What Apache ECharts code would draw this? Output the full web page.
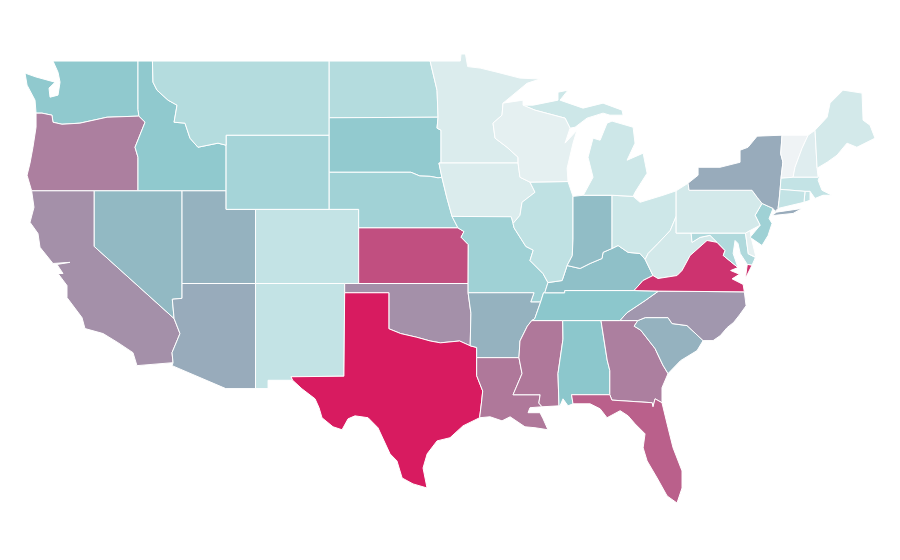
<!DOCTYPE html>
<html><head><meta charset="utf-8">
<style>html,body{margin:0;padding:0;background:#fff}#c{width:900px;height:560px}</style>
<script src="https://cdn.jsdelivr.net/npm/echarts@6/dist/echarts.min.js"></script>
</head><body><div id="c"></div>
<script>
// Values read from the shading of each state
const stateNames = ["Vermont","Delaware","Wisconsin","New Hampshire","Minnesota","Iowa","Pennsylvania","West Virginia","Maine","Ohio","Michigan","New Mexico","Connecticut","Rhode Island","Massachusetts","Colorado","Illinois","Montana","North Dakota","Maryland","Wyoming","Nebraska","Missouri","New Jersey","South Dakota","Washington","Idaho","Alabama","Tennessee","Kentucky","Indiana","Nevada","South Carolina","Utah","Arkansas","New York","Arizona","North Carolina","California","Oklahoma","Oregon","Georgia","Mississippi","Louisiana","Florida","Kansas","Virginia","Texas"];
const stateValues = [2,7,7,10,12,12,16,16,16,19,19,24,24,24,24,24,26,31,31,33,38,40,41,41,47,48,48,50,50,52,53,54,56,56,56,58,58,64,66,66,71,71,73,73,80,85,93,100];
const colorStops = ["#f3f5f6","#c1e2e4","#8cc7cc","#b27196","#d81b60"];

// State outlines as lon,lat rings (a base map, not data)
const WA=[[-122.8,49,-117.03,49,-117.03,46.4,-116.97,46.03,-119.13,45.97,-120.97,45.65,-122.19,45.59,-122.8,45.7,-122.87,46.08,-123.55,46.19,-123.95,46.19,-124.02,46.89,-124.56,47.7,-124.7,48.35,-123.95,48.14,-122.66,47.86,-123.07,47.54,-123,47.05,-122.46,47.16,-122.32,47.86,-122.46,48.4]];
const OR=[[-123.95,46.19,-123.55,46.19,-122.87,46.08,-122.8,45.7,-122.19,45.59,-120.97,45.65,-119.13,45.97,-116.97,46.03,-116.55,45.7,-117.23,44.35,-117.03,43.81,-117.03,42,-124.25,42,-124.56,42.84,-124.36,43.49,-124.16,44.35,-123.95,45.43]];
const ID=[[-117.03,49,-116.05,49,-116.01,47.86,-115.74,47.43,-114.99,46.89,-114.38,46.62,-114.58,45.7,-113.84,45.65,-113.5,44.84,-112.96,44.35,-111.6,44.57,-111.05,44.46,-111.05,42,-117.03,42,-117.03,43.81,-117.23,44.35,-116.55,45.7,-116.97,46.03,-117.03,46.4]];
const CA=[[-124.25,42,-120,42,-120,39,-114.58,35.11,-114.18,34.3,-114.72,33.27,-114.65,32.73,-117.1,32.57,-117.37,33.27,-118.39,33.81,-119.4,34.3,-120.63,34.57,-120.83,35.16,-121.85,36.24,-121.85,36.89,-122.46,37.54,-122.12,37.54,-122.53,38.03,-121.65,38.14,-122.8,38.08,-123.68,38.95,-123.82,39.7,-124.36,40.3,-124.09,41.11]];
const NV=[[-120,42,-114.04,42,-114.04,36.2,-114.7,36.15,-114.58,35.11,-120,39]];
const AZ=[[-114.04,37,-109.05,37,-109.05,31.33,-111.07,31.33,-114.72,32.57,-114.65,32.73,-114.72,33.27,-114.18,34.3,-114.58,35.11,-114.7,36.15,-114.04,36.2]];
const NM=[[-109.05,37,-103,37,-103,36.5,-103.05,32,-106.64,31.97,-106.53,31.78,-108.2,31.78,-108.2,31.33,-109.05,31.33]];
const UT=[[-114.04,42,-111.05,42,-111.05,41,-109.05,41,-109.05,37,-114.04,37]];
const CO=[[-109.05,41,-102.05,41,-102.05,37,-109.05,37]];
const WY=[[-111.05,45,-104.05,45,-104.05,41,-111.05,41]];
const MT=[[-116.05,49,-104.05,49,-104.05,45,-111.05,45,-111.05,44.46,-111.6,44.57,-112.96,44.35,-113.5,44.84,-113.84,45.65,-114.58,45.7,-114.38,46.62,-114.99,46.89,-115.74,47.43,-116.01,47.86]];
const ND=[[-104.05,49,-97.2,49,-96.73,47.43,-96.66,45.97,-104.05,45.94]];
const SD=[[-104.05,45.94,-96.66,45.97,-96.73,45.38,-96.46,45.27,-96.46,43.5,-96.6,43.5,-96.4,42.73,-96.66,42.7,-97.2,42.78,-97.9,42.8,-98.5,43,-104.05,43]];
const NE=[[-104.05,43,-98.5,43,-97.9,42.8,-97.2,42.78,-96.66,42.7,-96.4,42.73,-96.07,41.65,-95.71,40.62,-95.31,40,-102.05,40,-102.05,41,-104.05,41]];
const KS=[[-102.05,40,-95.31,40,-94.9,39.8,-95.1,39.5,-94.61,39.1,-94.62,37,-102.05,37]];
const OK=[[-103,37,-94.62,37,-94.62,36.5,-94.43,35.4,-94.48,33.64,-95.2,33.9,-96.5,33.8,-97.2,33.9,-98.1,34.1,-99.2,34.3,-100,34.56,-100,36.5,-103,36.5]];
const TX=[[-103,36.5,-100,36.5,-100,34.56,-99.2,34.3,-98.1,34.1,-97.2,33.9,-96.5,33.8,-95.2,33.9,-94.48,33.64,-94.04,33.55,-94.04,33,-94.04,32.03,-93.63,31.2,-93.7,30.66,-93.84,29.76,-94.97,29.32,-95.85,28.68,-96.73,28.51,-97.4,27.81,-97.68,27.05,-97.41,25.97,-98.36,26.19,-99.1,26.51,-99.45,27.43,-99.92,27.81,-100.74,29.22,-101.41,29.76,-102.3,29.86,-102.77,29.7,-103.18,29.11,-103.79,29.27,-104.54,29.76,-104.74,30.3,-105.01,30.78,-105.9,31.32,-106.53,31.78,-106.64,31.97,-103.05,32]];
const MN=[[-97.2,49,-95.15,49,-95.1,49.38,-94.8,49.38,-94.65,48.7,-93.8,48.62,-92.66,48.4,-91.1,48.08,-89.74,48.03,-90.62,47.8,-92.25,46.73,-92.32,46.08,-92.93,45.65,-92.79,44.84,-91.98,44.35,-91.23,43.81,-91.23,43.5,-96.46,43.5,-96.46,45.27,-96.73,45.38,-96.66,45.97,-96.73,47.43]];
const IA=[[-96.46,43.5,-91.23,43.5,-91.1,42.73,-90.42,42.47,-90.08,41.92,-90.96,41.38,-91.1,40.68,-91.57,40.24,-91.7,40.6,-95.71,40.62,-96.07,41.65,-96.4,42.73,-96.6,43.5]];
const MO=[[-95.71,40.62,-91.7,40.6,-91.57,40.24,-91.5,40,-90.7,39,-90.2,38.8,-90.42,38.24,-89.54,37.54,-89.2,37.05,-89.42,36.5,-89.5,36.5,-89.7,36,-90.37,36,-90.15,36.5,-94.62,36.5,-94.62,37,-94.61,39.1,-95.1,39.5,-94.9,39.8,-95.31,40]];
const AR=[[-94.62,36.5,-90.15,36.5,-90.37,36,-89.7,36,-90.1,35.1,-90.3,35,-90.6,34.7,-91.1,33.9,-91.17,33,-94.04,33,-94.04,33.55,-94.48,33.64,-94.43,35.4]];
const LA=[[-94.04,33,-91.17,33,-90.96,32.14,-91.57,31,-89.73,31,-89.82,30.55,-89.6,30.35,-90.42,30.3,-90.55,30.03,-89.74,30.03,-89.53,29.7,-89.2,29.11,-90.08,29.22,-90.76,29.27,-91.77,29.81,-92.32,29.59,-93.13,29.81,-93.84,29.76,-93.7,30.66,-93.63,31.2,-94.04,32.03]];
const MS=[[-90.3,35,-88.2,35,-88.18,34,-88.52,32.14,-88.45,30.4,-89.6,30.35,-89.82,30.55,-89.73,31,-91.57,31,-90.96,32.14,-91.17,33,-91.1,33.9,-90.6,34.7]];
const AL=[[-88.2,35,-85.6,35,-85.18,32.87,-85,32.3,-85,31,-87.6,31,-87.5,30.51,-87.84,30.4,-88.18,30.78,-88.38,30.4,-88.45,30.4,-88.52,32.14,-88.18,34]];
const GA=[[-85.6,35,-83.1,35,-83.35,34.7,-82.9,34.48,-81.93,33.49,-81.4,32.6,-81.05,32.14,-81.46,31.38,-81.46,30.57,-81.93,30.78,-82.07,30.35,-82.13,30.57,-84.86,30.71,-85,31,-85,32.3,-85.18,32.87]];
const FL=[[-87.6,31,-85,31,-84.86,30.71,-82.13,30.57,-82.07,30.35,-81.93,30.78,-81.46,30.57,-81.05,29.22,-80.71,28.14,-80.1,26.89,-80.1,25.97,-80.44,25.16,-81.11,25.54,-81.79,26.51,-82.47,27.43,-82.74,28.14,-82.61,28.89,-83.29,29.43,-83.76,29.86,-84.3,30.14,-85.19,29.76,-85.66,30.24,-86.34,30.51,-87.5,30.51]];
const SC=[[-83.1,35,-82.6,35.16,-81.05,35.16,-80.78,34.84,-79.76,34.73,-78.67,33.92,-79.08,33.38,-80.2,32.84,-81.05,32.14,-81.4,32.6,-81.93,33.49,-82.9,34.48,-83.35,34.7]];
const NC=[[-81.7,36.59,-75.87,36.55,-75.75,35.8,-76.2,35.3,-76.6,34.9,-77.04,34.62,-77.5,34.19,-77.99,33.92,-78.67,33.92,-79.76,34.73,-80.78,34.84,-81.05,35.16,-82.6,35.16,-83.1,35,-84.32,35,-83.83,35.43,-82.6,36.08]];
const TN=[[-90.3,35,-88.2,35,-85.6,35,-84.32,35,-83.83,35.43,-82.6,36.08,-81.7,36.59,-83.36,36.62,-88.07,36.62,-88.07,36.5,-89.42,36.5,-89.5,36.5,-89.7,36,-90.1,35.1]];
const KY=[[-89.42,36.5,-88.07,36.5,-88.07,36.62,-83.36,36.62,-82.75,37.16,-82.07,37.43,-82.6,38.3,-82.95,38.62,-83.76,38.68,-84.44,39.05,-84.85,38.89,-85.46,38.68,-85.53,38.35,-86.34,38.08,-87.02,37.81,-87.9,37.97,-88.24,37.16,-89.2,37.05]];
const IL=[[-90.42,42.47,-87.84,42.5,-87.5,41.7,-87.5,39.4,-87.55,38.5,-87.9,37.97,-88.24,37.16,-89.2,37.05,-89.54,37.54,-90.42,38.24,-90.2,38.8,-90.7,39,-91.5,40,-91.57,40.24,-91.1,40.68,-90.96,41.38,-90.08,41.92]];
const IN=[[-87.5,41.7,-86.8,41.76,-84.85,41.76,-84.85,38.89,-85.46,38.68,-85.53,38.35,-86.34,38.08,-87.02,37.81,-87.9,37.97,-87.55,38.5,-87.5,39.4]];
const OH=[[-84.85,41.76,-83.42,41.7,-82.95,41.38,-81.39,41.76,-80.5,42,-80.5,40.62,-80.9,39.86,-81.73,39.16,-82.4,38.62,-82.6,38.3,-82.95,38.62,-83.76,38.68,-84.44,39.05,-84.85,38.89]];
const WV=[[-80.5,40.62,-80.5,39.72,-79.48,39.72,-79.42,39.22,-78.87,39.49,-78.2,39.6,-77.72,39.22,-78.4,39.32,-79.55,38.51,-80.1,37.7,-80.44,37.43,-81.73,37.27,-82.07,37.43,-82.6,38.3,-82.4,38.62,-81.73,39.16,-80.9,39.86]];
const VA=[[-83.36,36.62,-81.7,36.59,-75.87,36.55,-75.95,36.95,-76.7,37.25,-76.2,37.5,-76.8,37.7,-76.3,37.86,-77.3,38.51,-77.18,38.78,-77.72,39.22,-78.4,39.32,-79.55,38.51,-80.1,37.7,-80.44,37.43,-81.73,37.27,-82.07,37.43,-82.75,37.16],[-75.34,38,-75.8,37.27,-75.67,38.03]];
const MD=[[-79.48,39.72,-75.79,39.72,-75.6,38.6,-75.12,38.4,-75.34,38,-75.67,38.03,-76.15,38.62,-76.3,39.16,-76.5,39.32,-76.63,38.62,-76.3,37.86,-77.3,38.51,-77.18,38.78,-77.72,39.22,-78.2,39.6,-78.87,39.49,-79.42,39.22]];
const DE=[[-75.79,39.72,-75.48,39.86,-75.41,39.49,-75.08,38.42,-75.12,38.4,-75.6,38.6]];
const NJ=[[-74.67,41.32,-73.92,41.05,-74.19,40.51,-73.99,40.24,-74.26,39.59,-74.67,39.05,-75.48,39.49,-74.8,40.14,-75.14,40.68]];
const PA=[[-80.5,42,-79.69,42.41,-79.62,42.03,-75.35,42.03,-75,41.65,-74.67,41.32,-75.14,40.68,-74.8,40.14,-75.48,39.86,-75.79,39.72,-80.5,39.72]];
const NY=[[-79.62,42.03,-79.69,42.41,-79.01,42.84,-79.01,43.27,-77.52,43.27,-76.16,43.54,-76.16,44.19,-75.62,44.35,-75,44.95,-73.31,45,-73.4,44,-73.25,43.55,-73.38,42.68,-73.44,42.08,-73.51,41.49,-73.58,41.05,-73.78,40.89,-73.92,41.05,-74.67,41.32,-75,41.65,-75.35,42.03],[-73.99,40.68,-73.68,40.85,-71.95,41.05,-72.56,40.78,-73.78,40.68]];
const VT=[[-73.31,45,-71.54,45,-71.95,44.3,-72.43,43.27,-72.56,42.73,-73.38,42.68,-73.25,43.55,-73.4,44]];
const NH=[[-71.54,45,-71.07,45.27,-70.93,43.22,-70.86,42.73,-72.56,42.73,-72.43,43.27,-71.95,44.3]];
const ME=[[-71.07,45.27,-70.25,45.97,-70.05,46.73,-69.17,47.43,-67.88,47.27,-67.81,45.81,-67.34,45.54,-67,44.84,-68.23,44.35,-68.9,44.57,-69.58,43.92,-70.25,43.54,-70.93,43.22]];
const MA=[[-73.38,42.68,-72.56,42.73,-70.86,42.73,-70.73,42.84,-70.86,42.57,-70.6,42.03,-69.92,41.76,-70.53,41.76,-71.07,41.59,-71.41,41.97,-71.75,41.97,-73.44,42.08]];
const RI=[[-71.75,41.97,-71.41,41.97,-71.41,41.49,-71.82,41.38]];
const CT=[[-73.44,42.08,-71.75,41.97,-71.82,41.38,-73.58,41.05,-73.51,41.49]];
const MI=[[-86.8,41.76,-84.85,41.76,-83.42,41.7,-83.29,41.92,-82.47,42.95,-82.74,44.03,-83.83,43.65,-83.29,44.57,-83.42,45.43,-84.85,45.76,-85.19,45.65,-85.66,44.73,-86.14,44.84,-86.48,43.81,-86.14,42.73],[-90.89,46.62,-90.2,46.62,-88.52,46.89,-88.52,47.32,-87.84,47.43,-88.38,46.89,-86.82,46.46,-85.46,46.73,-84.17,46.35,-84.1,46.08,-84.99,46.08,-85.46,46.19,-86.55,45.92,-87.36,45.43,-87.7,45.38,-88.04,45.92,-90.08,46.35]];
const WI=[[-92.25,46.73,-90.89,46.89,-90.89,46.62,-90.08,46.35,-88.04,45.92,-87.7,45.38,-88.04,44.57,-87.23,45.27,-87.5,44.57,-87.9,43.22,-87.84,42.5,-90.42,42.47,-91.1,42.73,-91.23,43.5,-91.23,43.81,-91.98,44.35,-92.79,44.84,-92.93,45.65,-92.32,46.08]];

const outlines = {"Washington":WA,"Oregon":OR,"Idaho":ID,"California":CA,"Nevada":NV,"Arizona":AZ,"New Mexico":NM,"Utah":UT,"Colorado":CO,"Wyoming":WY,"Montana":MT,"North Dakota":ND,"South Dakota":SD,"Nebraska":NE,"Kansas":KS,"Oklahoma":OK,"Texas":TX,"Minnesota":MN,"Iowa":IA,"Missouri":MO,"Arkansas":AR,"Louisiana":LA,"Mississippi":MS,"Alabama":AL,"Georgia":GA,"Florida":FL,"South Carolina":SC,"North Carolina":NC,"Tennessee":TN,"Kentucky":KY,"Illinois":IL,"Indiana":IN,"Ohio":OH,"West Virginia":WV,"Virginia":VA,"Maryland":MD,"Delaware":DE,"New Jersey":NJ,"Pennsylvania":PA,"New York":NY,"Vermont":VT,"New Hampshire":NH,"Maine":ME,"Massachusetts":MA,"Rhode Island":RI,"Connecticut":CT,"Michigan":MI,"Wisconsin":WI};

function ring(flat){const r=[];for(let i=0;i<flat.length;i+=2)r.push([flat[i],flat[i+1]]);r.push([flat[0],flat[1]]);return r;}
const geo={type:"FeatureCollection",features:Object.keys(outlines).map(n=>({type:"Feature",properties:{name:n},geometry:{type:"MultiPolygon",coordinates:outlines[n].map(f=>[ring(f)])}}))};
echarts.registerMap("USA",geo);
const chart=echarts.init(document.getElementById("c"),null,{renderer:"canvas"});
chart.setOption({
  animation:false,
  backgroundColor:"#fff",
  visualMap:{show:false,min:0,max:100,inRange:{color:colorStops}},
  series:[{type:"map",map:"USA",aspectScale:0.796,left:25,top:54,width:850,height:449,roam:false,silent:true,selectedMode:false,
    label:{show:false},emphasis:{disabled:true},
    itemStyle:{borderColor:"#fff",borderWidth:1,areaColor:"#eee"},
    data:stateNames.map((n,i)=>({name:n,value:stateValues[i]}))}]
});
</script></body></html>
